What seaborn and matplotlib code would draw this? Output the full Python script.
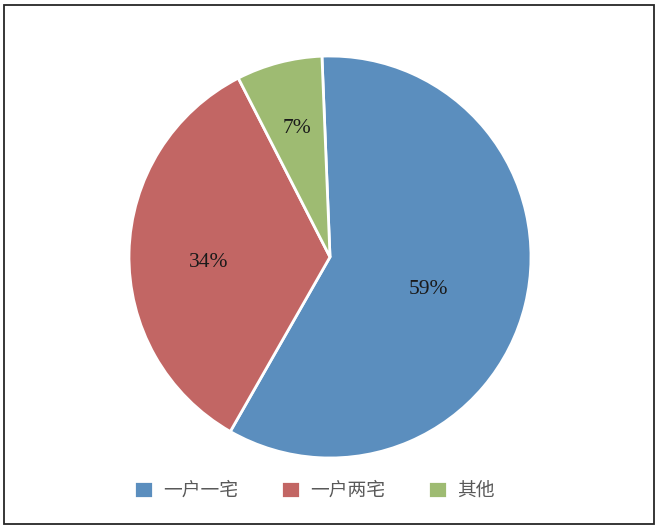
import matplotlib
matplotlib.use("Agg")
import matplotlib.pyplot as plt
import seaborn as sns
from matplotlib.patches import Rectangle

# data
categories = ["一户一宅", "一户两宅", "其他"]
shares = [58.9, 34.2, 6.9]
slice_colors = ["#5B8EBE", "#C26664", "#9EBB72"]

sns.set_theme(style="white")
plt.rcParams['font.family'] = ['Noto Sans CJK SC', 'DejaVu Sans']

fig = plt.figure(figsize=(6.63, 5.31), dpi=100)
ax = fig.add_axes([0.0, 0.0, 1.0, 1.0])

wedges, texts, autotexts = ax.pie(
    shares, colors=slice_colors, startangle=92.3, counterclock=False,
    autopct="%.0f%%", pctdistance=0.6,
    wedgeprops=dict(edgecolor="white", linewidth=2),
    textprops=dict(family="Liberation Serif", fontsize=15.5, color="#1a1a1a"),
)

# pie: radius ~201 px, centre ~(330, 257); set after pie() which resets limits
r_px = 201
W, H = 663, 531
ax.set_xlim(-330 / r_px, (W - 330) / r_px)
ax.set_ylim(-(H - 257) / r_px, 257 / r_px)
ax.set_aspect("equal")
ax.axis("off")

# Excel "best fit" label spots (in pie radii)
label_xy = [(0.488, -0.16), (-0.602, -0.027), (-0.164, 0.64)]
for t, xy in zip(autotexts, label_xy):
    t.set_position(xy)

leg = ax.legend(wedges, categories, loc="center", bbox_to_anchor=(0.474, 0.077),
                bbox_transform=fig.transFigure, ncol=3, frameon=False,
                handlelength=1.0, handleheight=1.0, handletextpad=0.55,
                columnspacing=2.3, fontsize=13.5)
for t in leg.get_texts():
    t.set_color("#595959")

# outer border of the chart area
fig.patches.append(Rectangle((4 / W, 1 - 524 / H), 650 / W, 519 / H,
                             transform=fig.transFigure, fill=False,
                             edgecolor="#262626", linewidth=1.3))

fig.savefig("out.png", dpi=100)
